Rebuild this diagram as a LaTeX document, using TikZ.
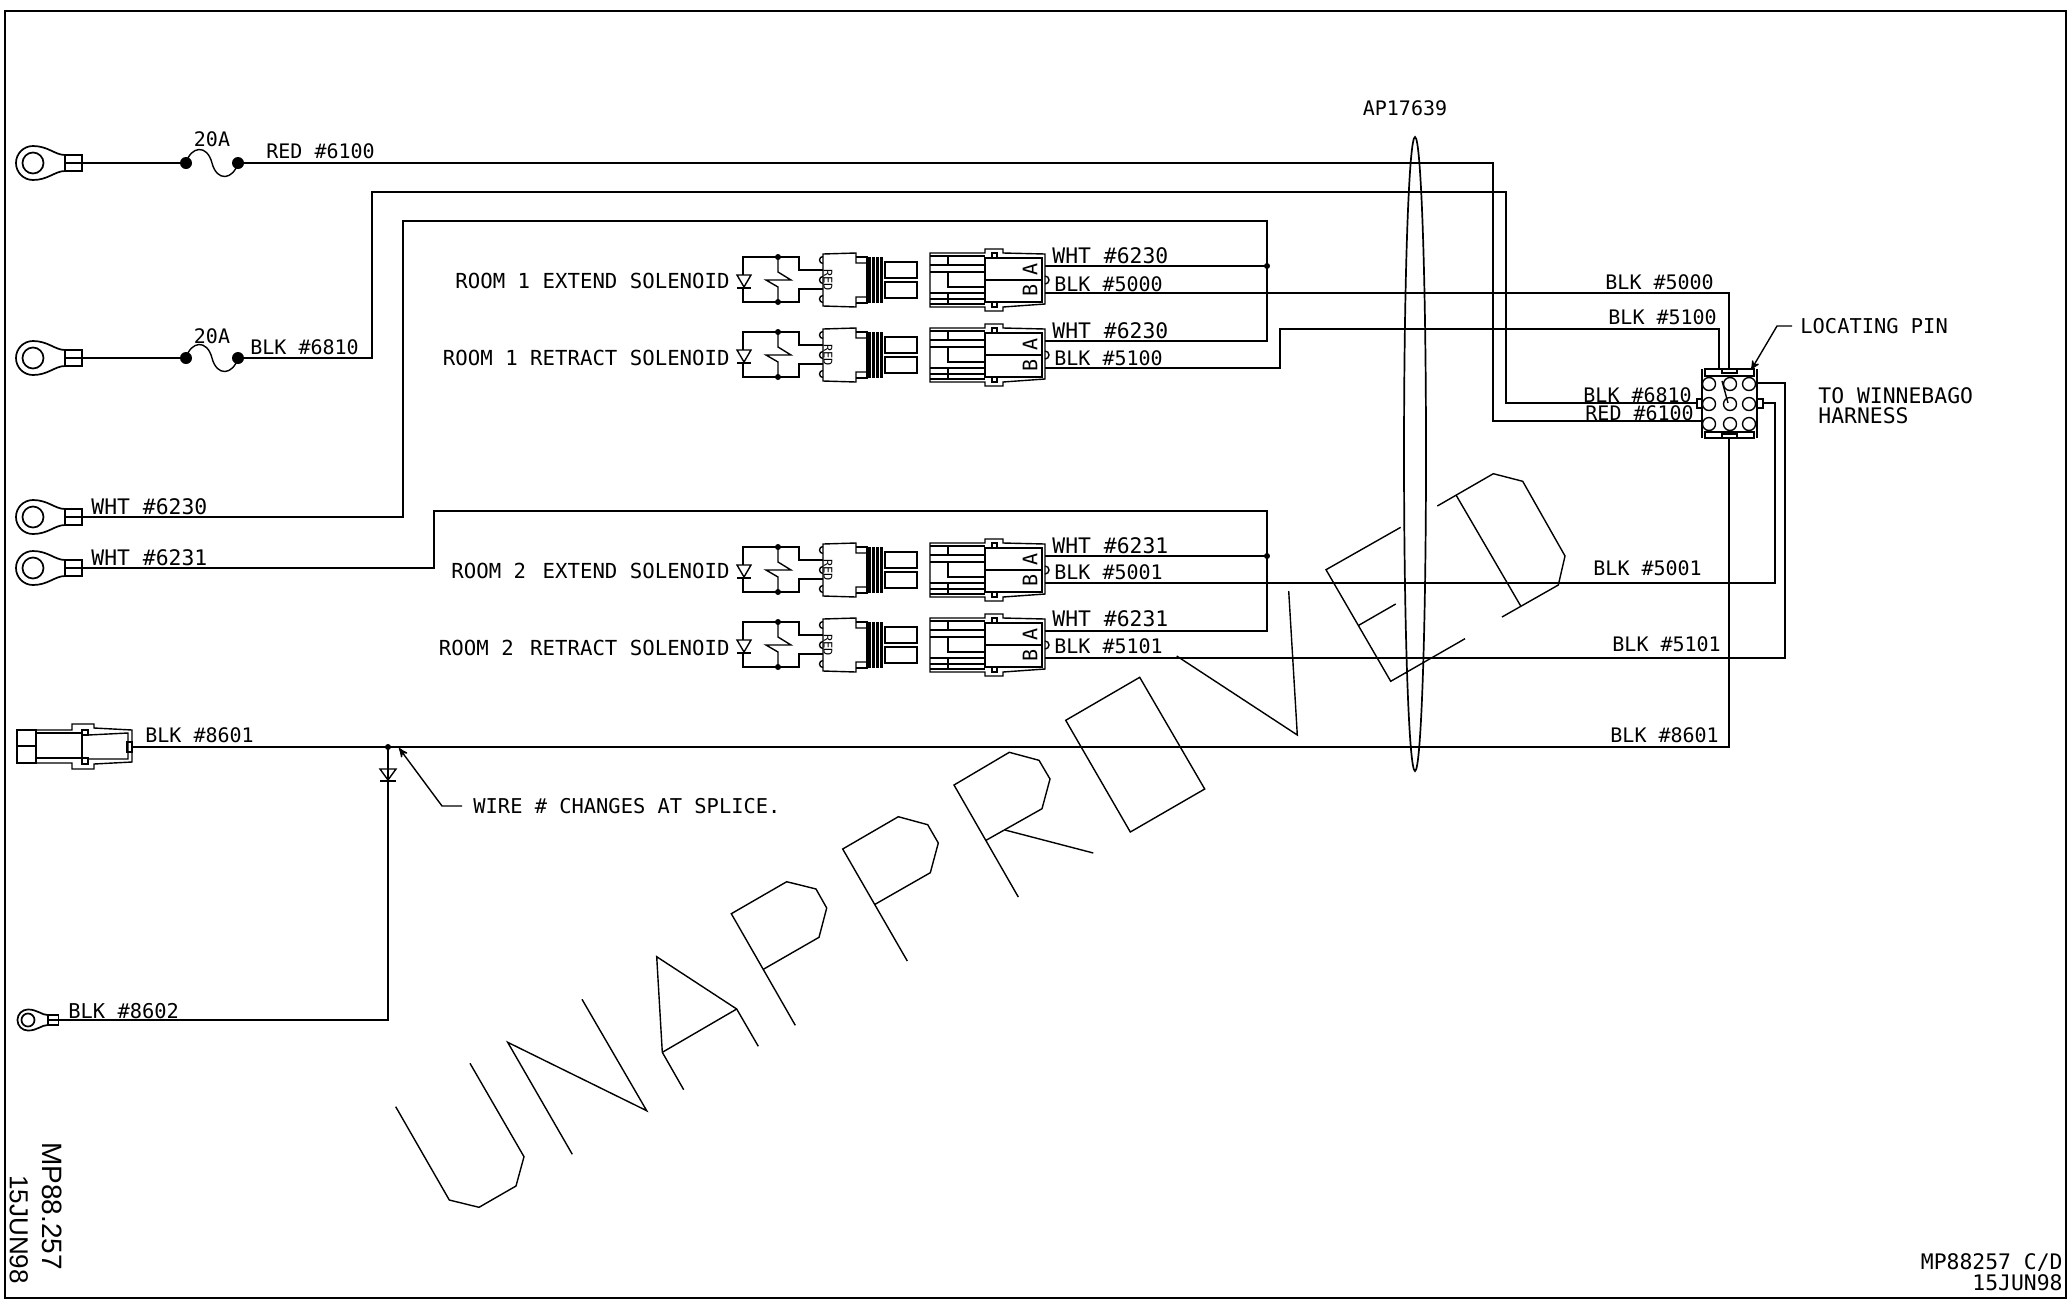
\documentclass[tikz,border=0pt]{standalone}
\usepackage{fontspec}
\usetikzlibrary{arrows,shapes.geometric}
\newfontfamily\cadfont{DejaVu Sans Mono}
\newfontfamily\stampfont{Liberation Sans}
\tikzset{
	x=0.5pt,
	y=-0.5pt,
	>=stealth', % sharp leader heads
	wire/.style={line width=0.85pt},
	part/.style={line width=0.7pt},
	water/.style={line width=0.7pt},
	wirelabel/.style={anchor=base west, inner sep=0pt, font=\cadfont\fontsize{10}{12}\selectfont},
	whtlabel/.style={anchor=base west, inner sep=0pt, font=\cadfont\fontsize{10.7}{12}\selectfont},
	widelabel/.style={anchor=base west, inner sep=0pt, font=\cadfont\fontsize{10.2}{12}\selectfont},
	roomlabel/.style={anchor=base east, inner sep=0pt, font=\cadfont\fontsize{10.35}{12}\selectfont},
	tinylabel/.style={inner sep=0pt, font=\cadfont\fontsize{6}{7}\selectfont},
	pinlabel/.style={inner sep=0pt, font=\cadfont\fontsize{10}{11}\selectfont},
	ringlug/.pic={
		\draw[wire] (32,-8) .. controls (22,-8) and (15,-17) .. (0,-17)
			arc[start angle=270, end angle=90, radius=17]
			.. controls (15,17) and (22,8) .. (32,8);
		\draw[wire] (0,0) circle[radius=10.5];
		\draw[wire] (32,-8) rectangle (49,8);
		\draw[wire] (32,0) -- (49,0);
		\coordinate (-end) at (49,0);
	},
	fuse/.pic={
		\fill (0,0) circle[radius=6];
		\fill (52,0) circle[radius=6];
		\draw[part] (0,0) .. controls (5,-17) and (21,-19) .. (26,0)
			.. controls (31,19) and (47,17) .. (52,0);
		\coordinate (-a) at (0,0);
		\coordinate (-b) at (52,0);
	},
	solconn/.pic={
		% diode and switch
		\draw[part] (23,-5) -- (23,-23) -- (79,-23) -- (79,-10) -- (103,-10);
		\draw[part] (23,8) -- (23,22) -- (79,22) -- (79,9) -- (103,9);
		\draw[part] (17,-5) -- (31,-5) -- (24,7) -- cycle;
		\draw[part] (17,8) -- (31,8);
		\fill (58,-23) circle[radius=3];
		\fill (58,22) circle[radius=3];
		\draw[part] (58,-23) -- (58,-8) -- (71,0) -- (46,0) -- (58,7) -- (58,22);
		\foreach \yy in {-20,0,19} {
			\draw[part] (103,\yy-3.5) arc[start angle=270, end angle=90, radius=3.5];
		}
		% solenoid plug
		\draw[part] (103,-26) -- (136,-27) -- (136,-17) -- (147,-17) -- (147,17) -- (136,17) -- (136,27) -- (103,26) -- cycle;
		\draw[part] (136,-23) -- (147,-23) -- (147,23) -- (136,23);
		\foreach \xx in {149.5,153.5,157.5,161.5} {
			\draw[line width=1.3pt] (\xx,-23) -- (\xx,23);
		}
		\draw[part] (165,-18) rectangle (197,-2);
		\draw[part] (165,2) rectangle (197,18);
		\node[tinylabel, rotate=-90] (-red) at (108,0) {RED};
		% mating housing
		\draw[part] (210,-27) -- (265,-27) -- (265,-31) -- (283,-31) -- (283,-27) -- (325,-26) -- (325,24) -- (283,27) -- (283,31) -- (265,31) -- (265,27) -- (210,27) -- cycle;
		\draw[part] (210,-24) -- (265,-24);
		\draw[part] (210,24) -- (265,24);
		\draw[part] (228,-24) -- (228,-15);
		\draw[part] (210,-15) -- (265,-15);
		\draw[part] (210,-8) -- (265,-8);
		\draw[part] (265,7) -- (228,7) -- (228,-8);
		\draw[part] (210,13) -- (265,13);
		\draw[part] (210,19) -- (265,19);
		\draw[part] (228,13) -- (228,24);
		\draw[part] (265,-22) rectangle (322,22);
		\draw[part] (265,0) -- (322,0);
		\draw[part] (272,-27) rectangle (277,-22);
		\draw[part] (272,22) rectangle (277,27);
		\draw[part] (325,-4) arc[start angle=270, end angle=450, radius=4];
		\node[pinlabel, rotate=90] (-a) at (310,-11) {A};
		\node[pinlabel, rotate=90] (-b) at (310,10) {B};
		\coordinate (-wht) at (325,-14);
		\coordinate (-blk) at (325,13);
	},
}

\begin{document}
\begin{tikzpicture}
	\useasboundingbox (0,0) rectangle (2070,1307);
	\draw[wire] (5,11) rectangle (2066,1298);

	% ring lugs and fuses
	\pic (lug1) at (33,163) {ringlug};
	\pic (lug2) at (33,358) {ringlug};
	\pic (lug3) at (33,517) {ringlug};
	\pic (lug4) at (33,568) {ringlug};
	\pic[scale=0.62] (lug5) at (28,1020) {ringlug};
	\pic (fuse1) at (186,163) {fuse};
	\pic (fuse2) at (186,358) {fuse};
	\draw[wire] (lug1-end) -- (fuse1-a);
	\draw[wire] (lug2-end) -- (fuse2-a);

	% solenoids
	\pic (conn1) at (720,280) {solconn};
	\pic (conn2) at (720,355) {solconn};
	\pic (conn3) at (720,570) {solconn};
	\pic (conn4) at (720,645) {solconn};

	% harness plug
	\coordinate (plugtop) at (1729,369);
	\coordinate (plugtopb) at (1719,369);
	\coordinate (plugbot) at (1729,438);
	\coordinate (plugblk) at (1697,403);
	\coordinate (plugred) at (1702,421);
	\coordinate (plugrone) at (1757,383);
	\coordinate (plugrtwo) at (1763,403);
	\coordinate (plugpin) at (1751,370);
	\draw[part] (1702,369) -- (1702,438);
	\draw[part] (1757,369) -- (1757,438);
	\draw[part] (1705,369) rectangle (1754,376);
	\draw[part] (1705,432) rectangle (1754,438);
	\draw[part] (1722,369) rectangle (1737,373);
	\draw[part] (1722,434) rectangle (1737,438);
	\draw[part] (1697,399) rectangle (1702,408);
	\draw[part] (1757,399) rectangle (1763,408);
	\foreach \xx in {1709,1730,1749} {
		\foreach \yy in {384,404,424} {
			\draw[part] (\xx,\yy) circle[radius=6.5];
		}
	}
	\draw[part] (1722,381) -- (1728,403);

	% inline connector
	\coordinate (inline) at (132,747);
	\draw[part] (17,730) rectangle (36,763);
	\draw[part] (36,730) -- (72,730) -- (72,724) -- (94,724) -- (94,728) -- (132,730) -- (132,762) -- (94,764) -- (94,769) -- (72,769) -- (72,763) -- (36,763);
	\draw[part] (36,733) -- (82,733);
	\draw[part] (36,758) -- (82,758);
	\draw[part] (82,730) -- (82,764);
	\draw[part] (82,730) rectangle (88,735);
	\draw[part] (82,758) rectangle (88,764);
	\draw[part] (88,735) -- (128,733) -- (128,759) -- (88,759);
	\draw[part] (127,742) rectangle (132,752);
	\draw[part] (17,746) -- (36,746);

	% wires
	\draw[wire] (fuse1-b) -| (1493,421) -- (plugred);
	\draw[wire] (fuse2-b) -| (372,192) -| (1506,403) -- (plugblk);
	\draw[wire] (lug3-end) -| (403,221) -| (1267,341) -- (conn2-wht);
	\draw[wire] (conn1-wht) -- (1267,266);
	\fill (1267,266) circle[radius=3];
	\draw[wire] (conn1-blk) -| (plugtop);
	\draw[wire] (conn2-blk) -| (1280,329) -| (plugtopb);
	\draw[wire] (lug4-end) -| (434,511) -| (1267,631) -- (conn4-wht);
	\draw[wire] (conn3-wht) -- (1267,556);
	\fill (1267,556) circle[radius=3];
	\draw[wire] (conn3-blk) -| (1775,403) -- (plugrtwo);
	\draw[wire] (conn4-blk) -| (1785,383) -- (plugrone);
	\draw[wire] (inline) -| (plugbot);
	\coordinate (splice) at (388,747);
	\fill (splice) circle[radius=3];
	\draw[wire] (splice) |- (lug5-end);
	\draw[part] (380,769) -- (396,769) -- (388,780) -- cycle;
	\draw[part] (380,781) -- (396,781);

	% wire bundle
	\node[draw, ellipse, wire, inner sep=0pt, minimum width=11pt, minimum height=317pt] (bundle) at (1415,454) {};
	\node[wirelabel, anchor=base] (aplabel) at (1405,115) {AP17639};

	% labels
	\node[wirelabel, anchor=base] (fuselaba) at (212,146) {20A};
	\node[wirelabel, anchor=base] (fuselabb) at (212,343) {20A};
	\node[wirelabel] (lab6100) at (266,158) {RED \#6100};
	\node[wirelabel] (lab6810) at (250,354) {BLK \#6810};
	\node[whtlabel] (lab6230) at (91,514) {WHT \#6230};
	\node[whtlabel] (lab6231) at (91,565) {WHT \#6231};
	\node[wirelabel] (lab8601) at (145,742) {BLK \#8601};
	\node[widelabel] (lab8602) at (68,1018) {BLK \#8602};
	\node[roomlabel] (rooma) at (730,288) {ROOM 1 EXTEND SOLENOID};
	\node[roomlabel] (roomb) at (730,365) {ROOM 1 RETRACT SOLENOID};
	\node[roomlabel] (roomc) at (730,578) {ROOM 2\hspace{2pt} EXTEND SOLENOID};
	\node[roomlabel] (roomd) at (730,655) {ROOM 2\hspace{2pt} RETRACT SOLENOID};
	\node[whtlabel] (wa) at (1052,263) {WHT \#6230};
	\node[wirelabel] (wb) at (1054,291) {BLK \#5000};
	\node[whtlabel] (wc) at (1052,338) {WHT \#6230};
	\node[wirelabel] (wd) at (1054,365) {BLK \#5100};
	\node[whtlabel] (we) at (1052,553) {WHT \#6231};
	\node[wirelabel] (wf) at (1054,579) {BLK \#5001};
	\node[whtlabel] (wg) at (1052,626) {WHT \#6231};
	\node[wirelabel] (wh) at (1054,653) {BLK \#5101};
	\node[wirelabel] (ra) at (1605,289) {BLK \#5000};
	\node[wirelabel] (rb) at (1608,324) {BLK \#5100};
	\node[wirelabel] (rc) at (1583,402) {BLK \#6810};
	\node[wirelabel] (rd) at (1585,420) {RED \#6100};
	\node[wirelabel] (re) at (1593,575) {BLK \#5001};
	\node[wirelabel] (rf) at (1612,651) {BLK \#5101};
	\node[wirelabel] (rg) at (1610,742) {BLK \#8601};
	\node[widelabel] (pinlab) at (1800,333) {LOCATING PIN};
	\node[whtlabel] (toa) at (1818,403) {TO WINNEBAGO};
	\node[whtlabel] (tob) at (1818,423) {HARNESS};
	\node[widelabel] (splicelab) at (473,813) {WIRE \# CHANGES AT SPLICE.};
	\coordinate (pinlead) at (1792,326);
	\coordinate (splicelead) at (462,806);
	\draw[part, ->] (pinlead) -- (1777,326) -- (plugpin);
	\draw[part, ->] (splicelead) -- (442,806) -- (399,748);

	% drawing numbers
	\node[whtlabel, anchor=base east] (numa) at (2063,1269) {MP88257 C/D};
	\node[whtlabel, anchor=base east] (numb) at (2063,1290) {15JUN98};
	\node[anchor=base west, inner sep=0pt, rotate=-90, font=\stampfont\fontsize{14}{15}\selectfont] (stampa) at (42,1142) {MP88.257};
	\node[anchor=base west, inner sep=0pt, rotate=-90, font=\stampfont\fontsize{13}{14}\selectfont] (stampb) at (10,1175) {15JUN98};

	% unapproved stamp
	\draw[water] (395.7,1106.7) -- (449.3,1200) -- (479,1207.3) -- (516,1186) -- (524,1156.7) -- (470,1063.3);
	\draw[water] (572.3,1154.3) -- (507.7,1042.3) -- (646.7,1110.7) -- (582,999.3);
	\draw[water] (683.7,1089.7) -- (662.3,1052.3) -- (656.7,956.7) -- (736.7,1009) -- (758.3,1046.3);
	\draw[water] (662.3,1052.3) -- (736.7,1009);
	\draw[water] (795.3,1025.3) -- (731.3,913.7) -- (786.7,881.7) -- (816,889) -- (826.7,908) -- (819,937.3) -- (763.3,969.3);
	\draw[water] (907.3,961) -- (842.7,849) -- (898.3,816.7) -- (927.7,824.7) -- (938.3,843) -- (930.3,872.7) -- (875,904.3);
	\draw[water] (1018.3,897) -- (954,785) -- (1009.3,752.3) -- (1039,760.3) -- (1050,779) -- (1042,808.7) -- (986,840.3);
	\draw[water] (1005,830) -- (1093.3,853);
	\draw[water] (1065.7,720.3) -- (1139.7,677.3) -- (1204.7,789) -- (1130.3,832) -- cycle;
	\draw[water] (1176.7,656) -- (1297.3,735) -- (1288.7,591);
	\draw[water] (1400.7,527.3) -- (1326,569.7) -- (1390.7,681.3) -- (1465,638.7);
	\draw[water] (1358.7,625.3) -- (1395.7,604);
	\draw[water] (1437.3,506) -- (1493.3,473.7) -- (1522.7,481.3) -- (1565,556) -- (1558.3,585) -- (1502,617);
	\draw[water] (1456,495) -- (1520.7,606);
\end{tikzpicture}
\end{document}
